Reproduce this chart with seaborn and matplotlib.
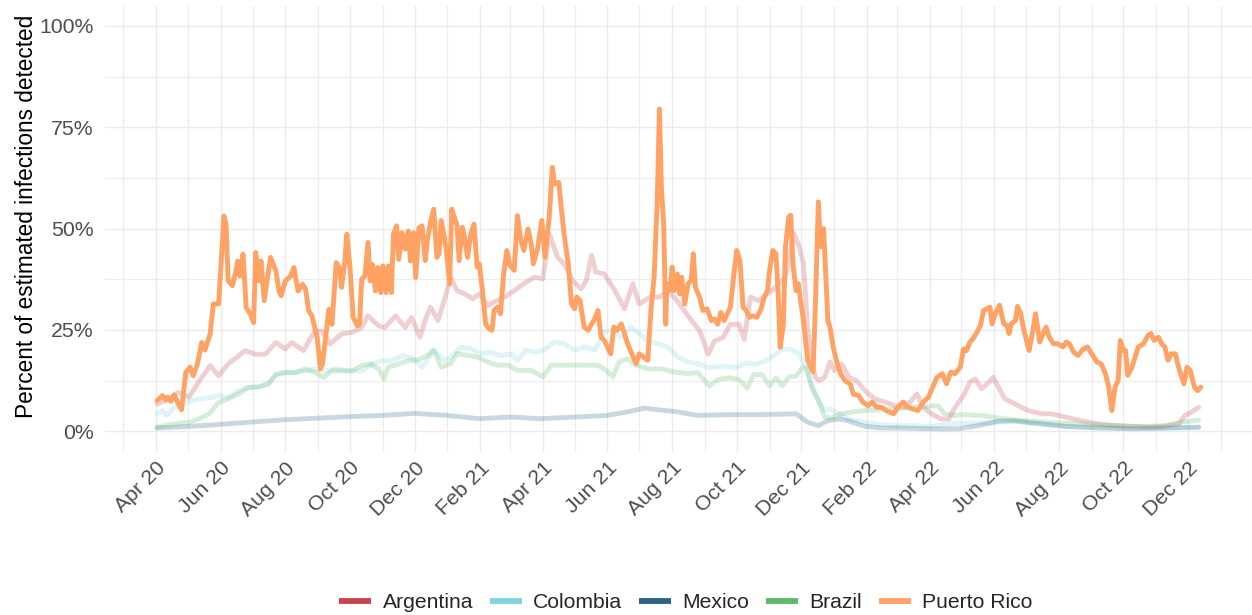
import pandas as pd
import matplotlib

matplotlib.use("Agg")
import matplotlib.pyplot as plt
import matplotlib.dates as mdates
import matplotlib.ticker as mticker
from matplotlib.lines import Line2D
import seaborn as sns


START = pd.Timestamp("2020-04-01")
COUNTRIES = ["Argentina", "Colombia", "Mexico", "Brazil", "Puerto Rico"]
HIGHLIGHT = "Puerto Rico"

COLORS = {
    "Argentina": "#C7434E",
    "Colombia": "#7FD4E0",
    "Mexico": "#2A6385",
    "Brazil": "#5FB96A",
    "Puerto Rico": "#FFA264",
}

# (days since 1 Apr 2020, percent of estimated infections detected)
argentina = [
    (1, 6.7), (12, 8.0), (21, 9.6), (31, 8.4), (40, 12.1), (51, 16.2), (59, 13.7),
    (68, 16.6), (76, 18.2), (84, 19.9), (94, 19.0), (103, 19.0), (113, 21.9),
    (122, 20.3), (128, 21.9), (139, 19.9), (149, 24.4), (156, 24.8), (164, 21.5),
    (175, 24.0), (185, 24.4), (194, 25.6), (200, 28.5), (210, 26.0), (216, 25.6),
    (226, 28.5), (235, 25.6), (241, 28.1), (249, 23.2), (255, 28.2), (259, 30.6),
    (266, 27.3), (272, 32.3), (278, 38.0), (284, 34.7), (291, 33.9), (299, 32.7),
    (305, 33.9), (313, 31.0), (319, 31.9), (329, 33.1), (338, 34.7), (347, 36.4),
    (357, 38.0), (365, 37.6), (371, 48.7), (379, 42.9), (385, 41.3), (393, 37.2),
    (401, 35.1), (406, 37.2), (411, 43.4), (415, 39.3), (423, 38.8), (433, 34.7),
    (442, 30.2), (450, 36.4), (456, 31.4), (466, 33.1), (475, 33.1), (484, 34.7),
    (494, 31.4), (503, 28.1), (513, 24.8), (521, 19.0), (527, 22.3), (535, 23.1),
    (542, 26.4), (550, 26.4), (555, 22.7), (561, 33.1), (569, 32.2), (577, 33.9),
    (585, 35.5), (594, 38.0), (602, 48.8), (607, 45.5), (611, 41.4), (615, 24.9),
    (622, 13.3), (626, 12.5), (631, 13.3), (636, 17.1), (640, 15.0), (647, 16.6),
    (654, 13.3), (661, 12.5), (669, 10.0), (678, 8.0), (688, 7.2), (697, 6.3),
    (707, 5.9), (713, 7.6), (718, 9.2), (724, 5.9), (732, 4.3), (741, 3.0),
    (748, 3.0), (754, 5.9), (762, 8.8), (768, 12.1), (773, 12.9), (779, 10.5),
    (786, 12.1), (790, 13.3), (795, 10.9), (801, 8.0), (810, 6.8), (823, 5.1),
    (836, 4.3), (845, 4.3), (858, 3.5), (873, 2.6), (889, 1.8), (905, 1.4),
    (921, 1.2), (936, 1.0), (952, 1.2), (965, 1.8), (971, 3.9), (977, 4.7), (984, 5.9),
]

colombia = [
    (1, 4.3), (6, 5.1), (10, 3.9), (17, 5.9), (25, 6.7), (34, 7.6), (43, 8.0),
    (53, 8.4), (59, 8.8), (68, 8.4), (78, 10.0), (87, 10.8), (97, 10.8), (106, 11.7),
    (113, 13.7), (122, 14.5), (131, 14.5), (141, 14.9), (150, 15.4), (160, 14.9),
    (169, 15.4), (182, 14.9), (194, 14.9), (204, 16.6), (213, 17.4), (222, 17.4),
    (232, 18.6), (241, 18.2), (251, 15.8), (257, 18.0), (262, 20.0), (272, 17.5),
    (278, 18.3), (288, 20.8), (297, 20.4), (306, 19.1), (316, 19.5), (325, 18.7),
    (335, 19.1), (341, 17.5), (349, 20.0), (357, 19.5), (366, 20.0), (376, 22.0),
    (385, 21.6), (395, 20.0), (404, 20.8), (414, 20.0), (423, 24.5), (429, 24.9),
    (439, 23.2), (448, 25.7), (456, 24.1), (464, 22.4), (473, 21.6), (483, 20.8),
    (492, 18.3), (502, 17.1), (511, 16.7), (522, 15.7), (535, 16.1), (547, 15.7),
    (557, 16.9), (566, 16.5), (575, 17.4), (585, 19.0), (591, 20.2), (600, 20.2),
    (607, 19.0), (613, 16.0), (619, 10.5), (625, 7.6), (631, 5.1), (637, 5.5),
    (644, 4.3), (653, 3.0), (669, 2.2), (685, 1.6), (700, 1.4), (716, 1.4),
    (732, 1.2), (748, 1.8), (763, 2.0), (779, 2.0), (795, 2.2), (810, 2.5),
    (826, 2.0), (842, 1.6), (858, 1.2), (889, 1.0), (921, 0.7), (952, 0.7), (984, 1.0),
]

mexico = [
    (1, 0.8), (25, 1.1), (56, 1.6), (87, 2.2), (119, 2.8), (150, 3.2), (182, 3.6),
    (213, 3.9), (244, 4.4), (275, 3.9), (305, 3.1), (335, 3.5), (363, 3.1),
    (395, 3.5), (426, 3.9), (445, 4.8), (461, 5.7), (473, 5.3), (492, 4.8),
    (511, 3.9), (541, 4.1), (572, 4.1), (604, 4.3), (615, 2.2), (625, 1.4),
    (634, 2.6), (644, 3.0), (653, 2.6), (669, 1.2), (685, 0.8), (700, 0.8),
    (732, 0.6), (757, 0.6), (776, 1.4), (795, 2.5), (810, 2.6), (826, 2.1),
    (858, 1.2), (889, 0.8), (921, 0.6), (952, 0.8), (984, 1.0),
]

brazil = [
    (1, 1.1), (18, 1.8), (31, 2.2), (40, 3.0), (50, 4.3), (59, 7.1), (68, 8.0),
    (78, 9.2), (87, 10.8), (97, 11.0), (106, 11.7), (113, 14.1), (122, 14.5),
    (131, 14.5), (141, 15.4), (150, 14.5), (158, 13.3), (166, 14.9), (175, 14.9),
    (185, 14.9), (194, 16.2), (202, 16.6), (210, 15.4), (215, 12.9), (219, 15.8),
    (229, 16.6), (238, 17.4), (248, 17.7), (256, 18.7), (262, 20.0), (269, 15.8),
    (278, 16.7), (284, 19.1), (294, 18.7), (303, 18.3), (313, 17.1), (322, 16.3),
    (332, 16.3), (341, 15.0), (354, 15.0), (365, 13.4), (373, 16.3), (382, 16.3),
    (395, 16.3), (407, 16.3), (417, 16.3), (425, 15.0), (431, 13.4), (437, 17.1),
    (445, 17.9), (453, 16.3), (464, 15.4), (477, 15.4), (489, 14.6), (502, 14.2),
    (511, 14.5), (522, 11.2), (531, 12.8), (541, 13.2), (550, 12.8), (558, 10.7),
    (564, 14.0), (572, 14.0), (579, 11.2), (585, 13.2), (591, 11.2), (597, 13.4),
    (604, 13.6), (610, 15.7), (614, 15.5), (619, 11.0), (625, 7.6), (631, 3.5),
    (637, 3.3), (647, 4.3), (656, 4.7), (669, 5.1), (685, 5.3), (700, 5.5),
    (713, 5.9), (725, 6.1), (738, 6.3), (744, 4.3), (754, 3.9), (763, 4.1),
    (779, 3.9), (795, 3.3), (810, 2.8), (826, 2.5), (842, 2.2), (858, 2.0),
    (873, 1.8), (889, 1.6), (905, 1.4), (921, 1.2), (936, 1.2), (952, 1.4),
    (968, 2.2), (984, 2.8),
]

puerto_rico = [
    (1, 7.6), (6, 8.8), (9, 7.7), (11, 8.4), (14, 7.4), (17, 9.0), (21, 6.7),
    (24, 5.3), (28, 14.5), (32, 15.8), (35, 13.7), (39, 16.6), (43, 21.9),
    (46, 20.0), (51, 24.0), (54, 31.4), (59, 31.4), (64, 53.1), (66, 51.1),
    (68, 37.1), (72, 35.9), (75, 39.2), (77, 42.0), (79, 38.3), (82, 43.7),
    (85, 30.5), (89, 28.9), (92, 26.8), (94, 44.1), (97, 37.1), (99, 42.0),
    (102, 32.2), (108, 42.9), (113, 39.6), (116, 34.6), (118, 33.4), (122, 37.1),
    (127, 38.3), (130, 40.4), (134, 34.6), (138, 36.3), (141, 35.1), (144, 29.7),
    (147, 28.5), (152, 23.2), (155, 15.4), (157, 16.6), (160, 23.2), (163, 30.1),
    (166, 26.4), (170, 41.6), (173, 40.4), (175, 35.5), (178, 41.6), (180, 48.6),
    (183, 40.4), (186, 28.1), (190, 26.0), (192, 26.4), (194, 37.5), (197, 38.3),
    (200, 46.6), (202, 37.1), (204, 41.2), (207, 34.6), (209, 40.4), (212, 34.2),
    (214, 40.8), (217, 34.2), (219, 40.8), (222, 34.2), (224, 48.6), (227, 50.7),
    (229, 42.4), (232, 49.0), (235, 44.9), (238, 49.4), (240, 42.0), (243, 49.0),
    (245, 37.9), (248, 50.2), (251, 50.7), (254, 42.1), (256, 47.0), (259, 51.6),
    (262, 54.8), (265, 42.9), (267, 43.8), (269, 52.0), (272, 47.9), (274, 44.6),
    (277, 36.4), (279, 54.8), (282, 52.4), (284, 50.7), (286, 42.1), (289, 50.3),
    (291, 47.9), (294, 42.9), (297, 48.7), (300, 51.1), (303, 40.5), (305, 41.3),
    (308, 34.7), (311, 26.5), (314, 25.3), (317, 24.9), (319, 29.8), (322, 30.6),
    (325, 29.0), (328, 38.8), (331, 44.6), (334, 40.9), (338, 39.7), (341, 53.2),
    (344, 47.5), (347, 44.6), (351, 49.9), (354, 46.2), (356, 41.3), (360, 45.0),
    (364, 52.0), (367, 42.9), (371, 52.8), (374, 65.1), (376, 61.0), (380, 61.4),
    (382, 56.1), (385, 48.7), (389, 41.3), (392, 31.4), (395, 30.2), (397, 33.1),
    (400, 32.3), (404, 25.7), (408, 24.9), (411, 26.5), (414, 27.7), (417, 29.8),
    (420, 23.2), (423, 22.4), (426, 20.8), (429, 19.1), (432, 25.7), (435, 24.9),
    (439, 26.5), (442, 24.1), (445, 21.6), (449, 19.1), (453, 16.7), (456, 19.1),
    (460, 18.3), (464, 17.5), (467, 29.8), (470, 38.0), (473, 56.9), (475, 79.5),
    (477, 59.5), (479, 51.2), (481, 26.4), (482, 36.4), (485, 34.7), (487, 40.5),
    (489, 34.7), (492, 38.8), (494, 33.9), (496, 38.0), (499, 31.4), (502, 36.4),
    (505, 37.2), (507, 43.8), (509, 35.5), (513, 33.1), (516, 29.8), (520, 30.2),
    (524, 27.3), (527, 27.7), (530, 26.4), (533, 29.3), (536, 27.3), (539, 28.9),
    (542, 30.6), (545, 38.0), (548, 44.6), (551, 42.1), (554, 30.6), (557, 29.8),
    (560, 28.1), (563, 28.5), (567, 28.1), (571, 30.2), (574, 33.1), (577, 34.7),
    (579, 39.7), (582, 44.6), (585, 43.8), (587, 34.7), (589, 20.7), (592, 26.4),
    (594, 45.5), (597, 52.9), (599, 53.3), (601, 41.3), (604, 34.7), (606, 36.4),
    (611, 27.3), (615, 17.5), (620, 14.6), (622, 29.0), (625, 56.6), (627, 45.5),
    (630, 50.0), (634, 27.3), (636, 25.7), (639, 20.8), (642, 17.5), (646, 14.2),
    (650, 12.5), (655, 11.7), (658, 9.2), (663, 8.8), (667, 7.2), (672, 6.3),
    (676, 7.2), (680, 5.9), (685, 5.9), (689, 5.1), (696, 4.3), (700, 5.9),
    (705, 7.2), (710, 5.9), (714, 5.5), (719, 5.1), (724, 7.2), (729, 8.4),
    (733, 10.9), (737, 13.3), (742, 14.2), (746, 11.7), (750, 14.6), (754, 14.2),
    (759, 15.8), (762, 20.3), (765, 19.9), (768, 22.0), (771, 22.8), (774, 24.1),
    (778, 26.1), (781, 29.8), (784, 30.2), (787, 30.6), (789, 26.5), (792, 29.0),
    (796, 31.1), (800, 26.5), (803, 26.1), (805, 24.1), (807, 26.5), (811, 27.3),
    (813, 30.8), (816, 29.0), (819, 24.9), (824, 19.9), (828, 25.7), (830, 29.0),
    (834, 22.0), (837, 24.1), (840, 25.7), (843, 23.2), (847, 21.6), (851, 21.6),
    (856, 20.8), (859, 22.0), (862, 21.6), (866, 19.5), (870, 18.7), (875, 20.3),
    (879, 20.8), (883, 19.1), (888, 17.1), (892, 16.6), (896, 14.2), (899, 10.9),
    (902, 5.1), (905, 10.9), (908, 12.5), (910, 22.4), (913, 19.9), (915, 19.9),
    (917, 13.8), (921, 15.8), (924, 18.3), (927, 20.8), (932, 21.6), (936, 23.6),
    (939, 24.1), (942, 22.4), (946, 23.2), (949, 21.6), (952, 20.8), (955, 17.5),
    (958, 19.1), (962, 19.1), (965, 15.8), (970, 11.7), (973, 15.8), (976, 15.0),
    (980, 10.9), (983, 10.0), (986, 10.9),
]

SERIES = {
    "Argentina": argentina,
    "Colombia": colombia,
    "Mexico": mexico,
    "Brazil": brazil,
    "Puerto Rico": puerto_rico,
}


def to_frame(points):
    df = pd.DataFrame(points, columns=["day", "pct"])
    df["date"] = START + pd.to_timedelta(df["day"], unit="D")
    df["share"] = df["pct"] / 100
    return df


sns.set_theme(style="whitegrid")
plt.rcParams["font.family"] = ["Liberation Sans", "DejaVu Sans"]

W, H = 1252, 615
fig = plt.figure(figsize=(W / 100, H / 100), dpi=100)
ax = fig.add_axes([105 / W, (H - 451.5) / H, (1253 - 105) / W, (451.5 - 5.7) / H])

frames = {name: to_frame(SERIES[name]) for name in COUNTRIES}
for name in COUNTRIES:
    focus = name == HIGHLIGHT
    sns.lineplot(
        data=frames[name],
        x="date",
        y="share",
        ax=ax,
        estimator=None,
        color=COLORS[name],
        alpha=1.0 if focus else 0.25,
        linewidth=3.5,
        legend=False,
        zorder=4 if focus else 3,
    )

# ggplot-like 5% expansion on both axes
first = min(df["date"].min() for df in frames.values())
last = max(df["date"].max() for df in frames.values())
pad = (last - first) * 0.05
ax.set_xlim(first - pad, last + pad)
ax.set_ylim(-0.05, 1.05)

ax.xaxis.set_major_locator(mdates.MonthLocator(bymonth=range(2, 13, 2)))
ax.xaxis.set_minor_locator(mdates.MonthLocator())
ax.xaxis.set_major_formatter(mdates.DateFormatter("%b %y"))
ax.yaxis.set_major_locator(mticker.MultipleLocator(0.25))
ax.yaxis.set_minor_locator(mticker.MultipleLocator(0.125))
ax.yaxis.set_major_formatter(mticker.PercentFormatter(1.0, decimals=0))

ax.grid(which="major", color="#EBEBEB", linewidth=1.0)
ax.grid(which="minor", color="#EDEDED", linewidth=0.9)
ax.set_axisbelow(True)
for spine in ax.spines.values():
    spine.set_visible(False)

ax.tick_params(axis="both", which="both", length=0, labelsize=15.3, labelcolor="#4D4D4D")
ax.tick_params(axis="x", pad=5)
ax.tick_params(axis="y", pad=8)
for label in ax.get_xticklabels():
    label.set_rotation(45)
    label.set_ha("right")
    label.set_va("top")
    label.set_rotation_mode("anchor")

ax.set_xlabel("")
ax.set_ylabel("Percent of estimated infections detected", fontsize=16.3, color="black")
ax.yaxis.set_label_coords(-0.058, 0.527)

handles = [
    Line2D([0], [0], color=COLORS[name], linewidth=4.2, solid_capstyle="butt")
    for name in COUNTRIES
]
fig.legend(
    handles,
    COUNTRIES,
    loc="center",
    bbox_to_anchor=(686 / W, 1 - 603 / H),
    ncol=5,
    frameon=False,
    fontsize=15.2,
    handlelength=1.5,
    handletextpad=0.55,
    columnspacing=0.8,
)

fig.savefig("out.png", dpi=100)
plt.close(fig)
